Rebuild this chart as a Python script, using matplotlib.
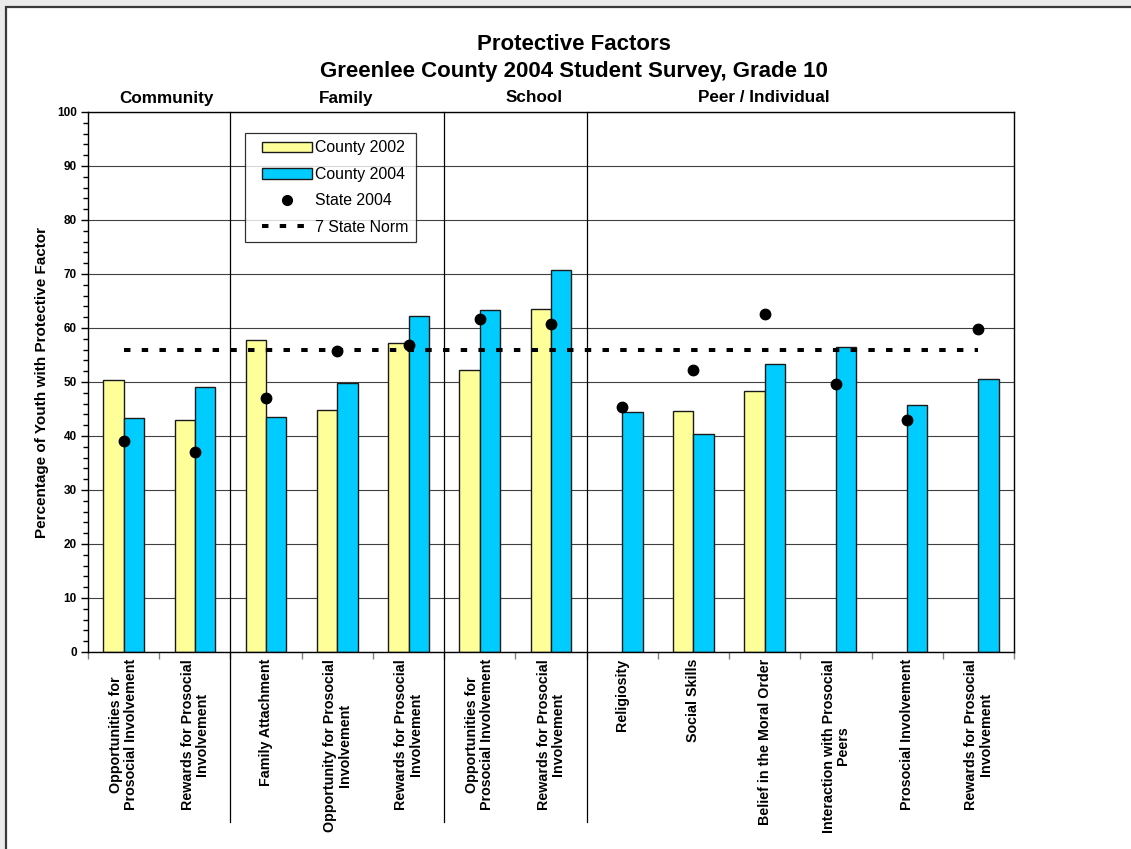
import matplotlib
matplotlib.use("Agg")
import matplotlib.pyplot as plt
import numpy as np
from matplotlib.patches import Rectangle
from matplotlib.lines import Line2D
from matplotlib.patches import Patch
from matplotlib.legend_handler import HandlerPatch, HandlerLine2D

plt.rcParams['font.family'] = ['Liberation Sans', 'DejaVu Sans']

categories = [
    "Opportunities for\nProsocial Involvement",
    "Rewards for Prosocial\nInvolvement",
    "Family Attachment",
    "Opportunity for Prosocial\nInvolvement",
    "Rewards for Prosocial\nInvolvement",
    "Opportunities for\nProsocial Involvement",
    "Rewards for Prosocial\nInvolvement",
    "Religiosity",
    "Social Skills",
    "Belief in the Moral Order",
    "Interaction with Prosocial\nPeers",
    "Prosocial Involvement",
    "Rewards for Prosocial\nInvolvement",
]
county_2002 = [50.4, 42.9, 57.7, 44.8, 57.3, 52.3, 63.5, np.nan, 44.7, 48.3, np.nan, np.nan, np.nan]
county_2004 = [43.3, 49.1, 43.5, 49.9, 62.2, 63.3, 70.7, 44.5, 40.4, 53.3, 56.5, 45.8, 50.6]
state_2004 = [39.1, 37.1, 47.0, 55.8, 56.9, 61.6, 60.7, 45.4, 52.2, 62.6, 49.6, 43.0, 59.9]
state_norm = [56, 56, 56, 56, 56, 56, 56, 56, 56, 56, 56, 56, 56]
groups = ["Community", "Family", "School", "Peer / Individual"]
group_sizes = [2, 3, 2, 6]

W, H = 1131, 849
fig = plt.figure(figsize=(W / 100, H / 100), dpi=100, facecolor='#ebebeb')
fig.patches.append(Rectangle((5.5 / W, -0.1), 1.2, 1.1 - 6.5 / H,
                             transform=fig.transFigure, facecolor='white',
                             edgecolor='#3a3a3a', linewidth=1.6, zorder=-10))

ax = fig.add_axes([88 / W, 1 - 652 / H, (1014 - 88) / W, (652 - 112) / H])
ax.set_zorder(1)
x = np.arange(len(categories))
bw = 0.285
ax.bar(x - bw / 2, county_2002, width=bw, color='#FFFF99', edgecolor='#1a1a1a', linewidth=1.0, zorder=2)
ax.bar(x + bw / 2, county_2004, width=bw, color='#00CCFF', edgecolor='#1a1a1a', linewidth=1.0, zorder=2)
ax.plot(x, state_norm, color='black', linewidth=2.9, linestyle=(0, (1.6, 2.8)), zorder=3)
ax.plot(x, state_2004, 'o', color='black', markersize=7.5, zorder=4, linestyle='none')

ax.set_xlim(-0.5, len(categories) - 0.5)
ax.set_ylim(0, 100)
ax.set_yticks(np.arange(0, 101, 10))
ax.set_yticks(np.arange(0, 101, 2), minor=True)
ax.yaxis.grid(True, which='major', color='#404040', linewidth=0.8)
ax.set_axisbelow(True)
for s in ax.spines.values():
    s.set_linewidth(1.0)
    s.set_color('black')
ax.tick_params(axis='y', which='major', length=5, width=1, direction='out', labelsize=8.5, pad=3)
ax.tick_params(axis='y', which='minor', length=3.5, width=1, direction='out')
for lab in ax.get_yticklabels():
    lab.set_fontweight('bold')

ax.set_xticks(x)
ax.set_xticklabels(categories, rotation=90, fontsize=10.3, fontweight='bold', ha='center', va='top',
                   multialignment='center', linespacing=1.05)
ax.set_xticks(np.arange(len(categories) + 1) - 0.5, minor=True)
ax.tick_params(axis='x', which='major', length=0, pad=5)
ax.tick_params(axis='x', which='minor', length=5, width=1, color='#808080', direction='out')

ax.set_ylabel("Percentage of Youth with Protective Factor", fontsize=11, fontweight='bold', labelpad=5.5)

# group separators
b = np.cumsum(group_sizes)[:-1] - 0.5
for bx in b:
    ax.axvline(bx, ymin=-0.315, ymax=1, color='black', linewidth=0.9, clip_on=False, zorder=3)

# titles
fig.text(574 / W, 1 - 44 / H, "Protective Factors", ha='center', va='center', fontsize=16, fontweight='bold')
fig.text(574 / W, 1 - 71 / H, "Greenlee County 2004 Student Survey, Grade 10", ha='center', va='center',
         fontsize=16, fontweight='bold')
gx = [166, 346, 534, 764]
for g, gxx in zip(groups, gx):
    fig.text(gxx / W, 1 - 98 / H, g, ha='center', va='center', fontsize=12.3, fontweight='bold')

handles = [
    Patch(facecolor='#FFFF99', edgecolor='#1a1a1a', linewidth=1.0),
    Patch(facecolor='#00CCFF', edgecolor='#1a1a1a', linewidth=1.0),
    Line2D([], [], marker='o', color='black', linestyle='none', markersize=7),
    Line2D([], [], color='black', linewidth=2.9, linestyle=(0, (1.6, 2.8))),
]
labels = ["County 2002", "County 2004", "State 2004", "7 State Norm"]
hmap = {handles[0]: HandlerPatch(xpad=0.63), handles[1]: HandlerPatch(xpad=0.63),
        handles[2]: HandlerLine2D(xpad=0.63), handles[3]: HandlerLine2D(xpad=0.63)}
leg = ax.legend(handles, labels, loc='upper left', bbox_to_anchor=((245 - 88) / 926, (652 - 133) / 540),
                borderaxespad=0, frameon=True, fancybox=False, fontsize=11.4, handlelength=3.73,
                handleheight=0.65, labelspacing=0.72, handletextpad=0.25, borderpad=0.47,
                handler_map=hmap)
leg.get_frame().set_edgecolor('black')
leg.get_frame().set_linewidth(0.9)

fig.savefig("out.png", dpi=100, facecolor=fig.get_facecolor())
